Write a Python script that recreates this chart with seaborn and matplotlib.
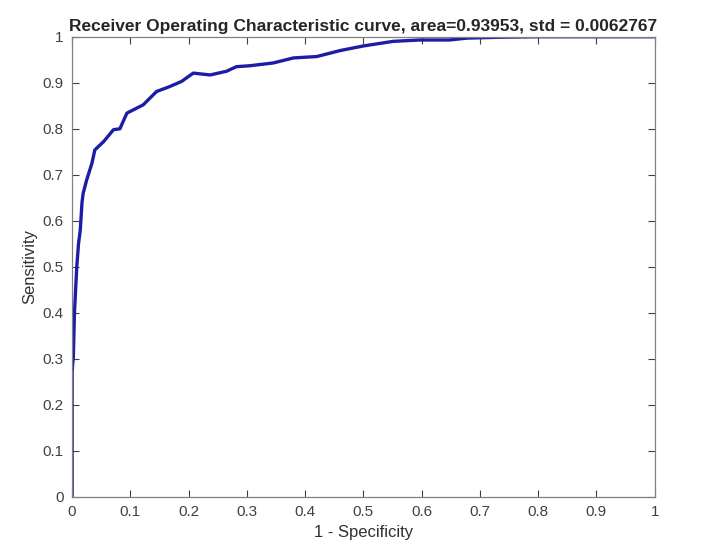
import matplotlib
matplotlib.use('Agg')
import matplotlib.pyplot as plt
import seaborn as sns
import pandas as pd

# ROC 곡선 값
fpr = [0.0, 0.0, 0.001, 0.002, 0.004, 0.008, 0.011, 0.014, 0.017, 0.019, 0.025, 0.034,
       0.039, 0.054, 0.071, 0.082, 0.094, 0.108, 0.122, 0.145, 0.168, 0.188, 0.208,
       0.237, 0.265, 0.282, 0.305, 0.345, 0.380, 0.420, 0.460, 0.500, 0.551, 0.597,
       0.648, 0.677, 0.734, 0.800, 0.900, 1.0]
tpr = [0.0, 0.27, 0.29, 0.30, 0.40, 0.50, 0.55, 0.58, 0.64, 0.66, 0.689, 0.725,
       0.754, 0.772, 0.798, 0.80, 0.834, 0.843, 0.852, 0.881, 0.892, 0.903, 0.921,
       0.917, 0.925, 0.935, 0.937, 0.943, 0.954, 0.957, 0.970, 0.980, 0.990, 0.993,
       0.993, 0.997, 0.999, 1.0, 1.0, 1.0]
ticks = [0, 0.1, 0.2, 0.3, 0.4, 0.5, 0.6, 0.7, 0.8, 0.9, 1]
tick_labels = ['0', '0.1', '0.2', '0.3', '0.4', '0.5', '0.6', '0.7', '0.8', '0.9', '1']

df = pd.DataFrame({'fpr': fpr, 'tpr': tpr})

sns.set_style('white')
plt.rcParams['font.family'] = ['Liberation Sans', 'DejaVu Sans']

fig = plt.figure(figsize=(7.07, 5.57), dpi=100)
ax = fig.add_axes([0.102, 0.108, 0.824, 0.826])
sns.lineplot(data=df, x='fpr', y='tpr', sort=False, estimator=None,
             color='#1c1ca6', linewidth=2.4, ax=ax)

ax.set_xlim(0, 1)
ax.set_ylim(0, 1)
ax.set_xticks(ticks)
ax.set_xticklabels(tick_labels)
ax.set_yticks(ticks)
ax.set_yticklabels(tick_labels)
ax.tick_params(direction='in', bottom=True, left=True, top=True, right=True,
               length=5, width=0.8, colors='#404040', labelsize=11, pad=6)
for s in ax.spines.values():
    s.set_color('#808080')
    s.set_linewidth(0.9)
ax.set_xlabel('1 - Specificity', fontsize=12, color='#303030', labelpad=4)
ax.set_ylabel('Sensitivity', fontsize=12, color='#303030', labelpad=4)
ax.set_title('Receiver Operating Characteristic curve, area=0.93953, std = 0.0062767',
             fontsize=12.5, fontweight='bold', pad=4)

fig.savefig('out.png', dpi=100)
